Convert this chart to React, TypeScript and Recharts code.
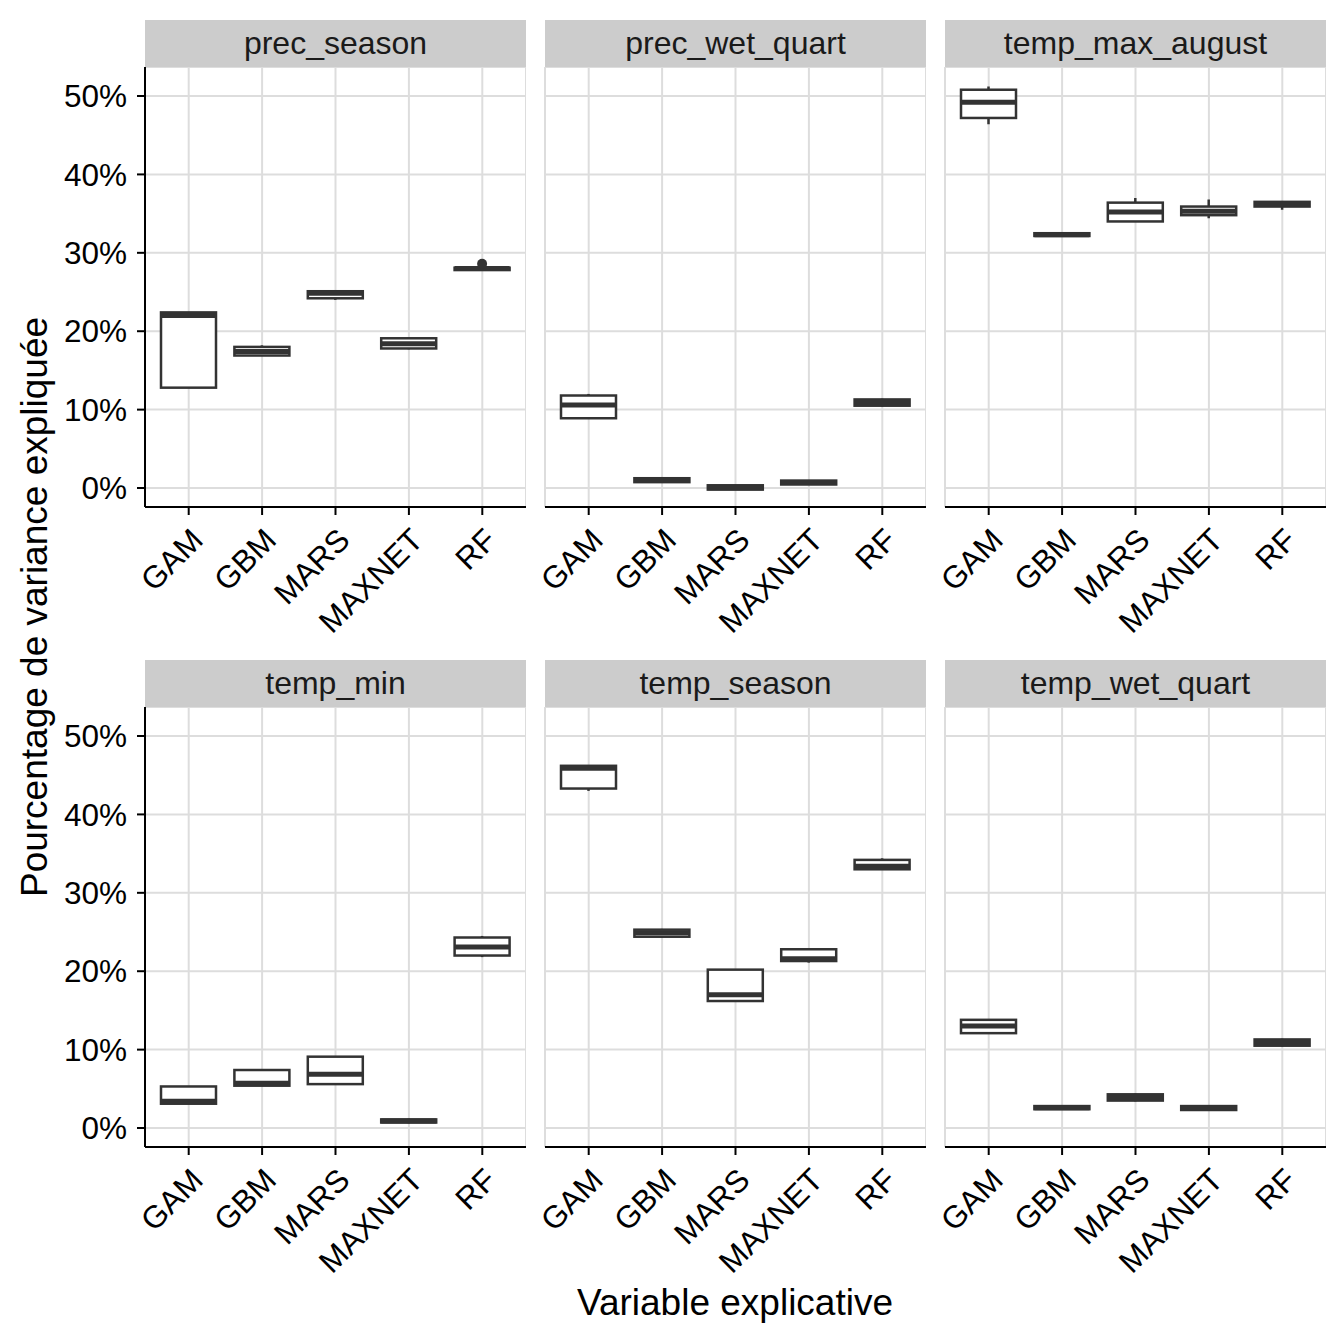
import React from "react";
import { ComposedChart, Bar, XAxis, YAxis, CartesianGrid } from "recharts";

const FONT = '"Liberation Sans", Arial, Helvetica, sans-serif';

const MODELS = ["GAM", "GBM", "MARS", "MAXNET", "RF"];
const PANELS = [
  "prec_season",
  "prec_wet_quart",
  "temp_max_august",
  "temp_min",
  "temp_season",
  "temp_wet_quart",
];

// one row per model: [min, q1, median, q3, max], in %
const PREC_SEASON = [
  [12.8, 12.8, 22.0, 22.4, 22.4],
  [16.9, 16.9, 17.4, 18.0, 18.2],
  [24.0, 24.2, 24.85, 25.1, 25.1],
  [17.7, 17.8, 18.4, 19.1, 19.2],
  [27.7, 27.8, 28.0, 28.1, 28.3],
];
const PREC_WET_QUART = [
  [8.8, 8.9, 10.6, 11.8, 12.0],
  [0.7, 0.75, 1.0, 1.25, 1.3],
  [-0.25, -0.2, 0.05, 0.35, 0.4],
  [0.4, 0.45, 0.7, 0.95, 1.0],
  [10.4, 10.5, 10.9, 11.3, 11.4],
];
const TEMP_MAX_AUGUST = [
  [46.4, 47.2, 49.2, 50.8, 51.2],
  [32.1, 32.15, 32.3, 32.5, 32.6],
  [34.0, 34.0, 35.2, 36.4, 37.0],
  [34.4, 34.8, 35.3, 35.9, 36.8],
  [35.5, 35.9, 36.2, 36.5, 36.6],
];
const TEMP_MIN = [
  [3.1, 3.1, 3.4, 5.3, 5.3],
  [5.4, 5.4, 5.7, 7.4, 7.4],
  [5.6, 5.6, 6.85, 9.1, 9.1],
  [0.6, 0.7, 0.9, 1.1, 1.2],
  [21.8, 22.0, 23.1, 24.3, 24.5],
];
const TEMP_SEASON = [
  [43.0, 43.3, 45.9, 46.2, 46.2],
  [24.3, 24.4, 24.9, 25.3, 25.4],
  [16.1, 16.2, 17.0, 20.2, 20.2],
  [21.1, 21.3, 21.6, 22.8, 22.8],
  [33.0, 33.0, 33.4, 34.2, 34.4],
];
const TEMP_WET_QUART = [
  [12.0, 12.1, 13.0, 13.8, 13.8],
  [2.3, 2.4, 2.6, 2.8, 2.9],
  [3.4, 3.5, 3.9, 4.3, 4.4],
  [2.2, 2.3, 2.6, 2.8, 2.9],
  [10.4, 10.5, 10.9, 11.3, 11.4],
];
const PANEL_STATS = [PREC_SEASON, PREC_WET_QUART, TEMP_MAX_AUGUST, TEMP_MIN, TEMP_SEASON, TEMP_WET_QUART];

// outlying points (only RF in prec_season)
const PREC_SEASON_OUTLIERS = [null, null, null, null, 28.6];
const PANEL_OUTLIERS: (number | null)[][] = [PREC_SEASON_OUTLIERS, [], [], [], [], []];

const Y_TICKS = [0, 10, 20, 30, 40, 50];
const Y_DOMAIN = [-2.42, 53.7];

const PLOT_X = [145, 545, 945];
const PLOT_Y = [67, 707];
const PLOT_W = 381;
const PLOT_H = 440;
const STRIP_H = 47;
const X_AXIS_H = 150;
const SIDE = 60; // room left of the inner panels for the rotated labels

const BOX_COLOR = "#333333";
const TICK_SIZE = 31.5;

function BoxShape(props: any) {
  const { x, y, width, height, payload } = props;
  if (!payload) return null;
  const [lo, q1, med, q3, hi] = payload.stats;
  const top = Math.min(y, y + height);
  const h = Math.abs(height);
  const py = (v: number) => top + ((hi - v) / (hi - lo)) * h;
  const cx = x + width / 2;
  return (
    <g>
      <line x1={cx} x2={cx} y1={py(hi)} y2={py(q3)} stroke={BOX_COLOR} strokeWidth={2.5} />
      <line x1={cx} x2={cx} y1={py(q1)} y2={py(lo)} stroke={BOX_COLOR} strokeWidth={2.5} />
      <rect
        x={x}
        y={py(q3)}
        width={width}
        height={Math.max(py(q1) - py(q3), 0.01)}
        fill="#ffffff"
        stroke={BOX_COLOR}
        strokeWidth={2.5}
      />
      <line x1={x} x2={x + width} y1={py(med)} y2={py(med)} stroke={BOX_COLOR} strokeWidth={5} />
      {payload.out != null && <circle cx={cx} cy={py(payload.out)} r={5} fill={BOX_COLOR} />}
    </g>
  );
}

function XTick(props: any) {
  const { x, y, payload } = props;
  return (
    <g transform={`translate(${x + 16},${y + 25})`}>
      <text
        x={0}
        y={0}
        textAnchor="end"
        transform="rotate(-45)"
        fill="#000"
        fontSize={TICK_SIZE}
        fontFamily={FONT}
      >
        {payload.value}
      </text>
    </g>
  );
}

function Panel({ index }: { index: number }) {
  const col = index % 3;
  const row = Math.floor(index / 3);
  const stats = PANEL_STATS[index];
  const outs = PANEL_OUTLIERS[index];
  const data = MODELS.map((m, i) => ({ model: m, stats: stats[i], out: outs[i] ?? null }));
  const leftRoom = col === 0 ? PLOT_X[0] : SIDE;
  const left = PLOT_X[col] - leftRoom;

  return (
    <>
      <div
        style={{
          position: "absolute",
          left: PLOT_X[col],
          top: PLOT_Y[row] - STRIP_H,
          width: PLOT_W,
          height: STRIP_H,
          background: "#cccccc",
          color: "#1a1a1a",
          fontFamily: FONT,
          fontSize: 32,
          lineHeight: `${STRIP_H}px`,
          textAlign: "center",
        }}
      >
        {PANELS[index]}
      </div>
      <div style={{ position: "absolute", left, top: PLOT_Y[row] }}>
        <ComposedChart
          width={leftRoom + PLOT_W}
          height={PLOT_H + X_AXIS_H}
          data={data}
          margin={{ top: 0, right: 0, bottom: 0, left: col === 0 ? 0 : SIDE }}
          barSize={55}
        >
          <CartesianGrid stroke="#dddddd" strokeWidth={2} />
          <XAxis
            dataKey="model"
            height={X_AXIS_H}
            padding={{ left: 7, right: 7 }}
            interval={0}
            tickSize={8}
            tickLine={{ stroke: "#000", strokeWidth: 2 }}
            axisLine={{ stroke: "#000", strokeWidth: 2 }}
            tick={<XTick />}
          />
          <YAxis
            hide={col !== 0}
            width={col === 0 ? PLOT_X[0] : 0}
            type="number"
            domain={Y_DOMAIN}
            allowDataOverflow
            ticks={Y_TICKS}
            tickFormatter={(v: number) => `${v}%`}
            tickSize={8}
            tickMargin={10}
            tickLine={{ stroke: "#000", strokeWidth: 2 }}
            axisLine={{ stroke: "#000", strokeWidth: 2 }}
            tick={{ fill: "#000", fontSize: TICK_SIZE, fontFamily: FONT }}
          />
          <Bar
            dataKey={(d: any) => [d.stats[0], d.stats[4]]}
            shape={BoxShape}
            isAnimationActive={false}
          />
        </ComposedChart>
      </div>
    </>
  );
}

export default function App() {
  return (
    <div style={{ position: "relative", width: 1344, height: 1344, background: "#fff", overflow: "hidden" }}>
      <style>{"body{margin:0}"}</style>
      {PANELS.map((p, i) => (
        <Panel key={p} index={i} />
      ))}
      <div
        style={{
          position: "absolute",
          left: 35,
          top: 607,
          transform: "translate(-50%, -50%) rotate(-90deg)",
          whiteSpace: "nowrap",
          fontFamily: FONT,
          fontSize: 37,
          color: "#000",
        }}
      >
        Pourcentage de variance expliquée
      </div>
      <div
        style={{
          position: "absolute",
          left: 735,
          top: 1303,
          transform: "translate(-50%, -50%)",
          whiteSpace: "nowrap",
          fontFamily: FONT,
          fontSize: 37,
          color: "#000",
        }}
      >
        Variable explicative
      </div>
    </div>
  );
}
